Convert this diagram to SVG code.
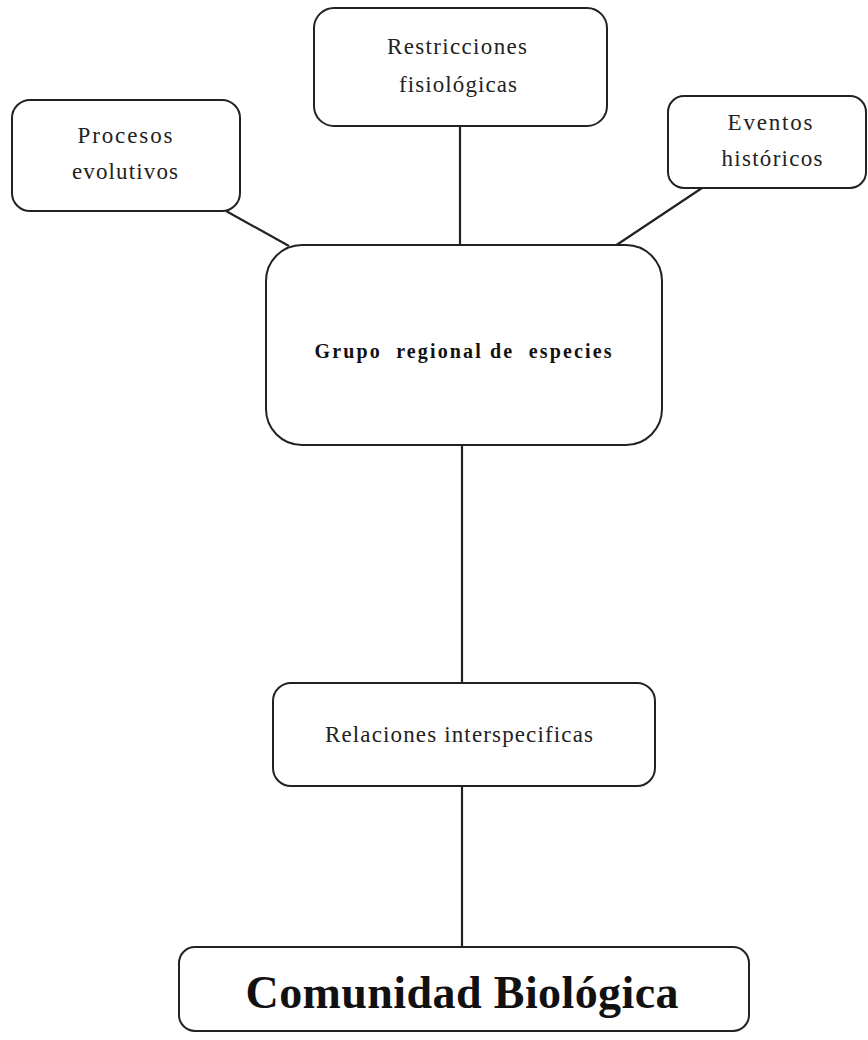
<svg xmlns="http://www.w3.org/2000/svg" width="868" height="1040" viewBox="0 0 868 1040">
<style>
.box{fill:#fff;stroke:#222;stroke-width:2}
.ln{stroke:#222;stroke-width:2.2;fill:none}
.t{font-family:"Liberation Serif","Times New Roman",serif;font-size:23px;fill:#222;text-anchor:middle}
.b{font-family:"Liberation Serif","Times New Roman",serif;font-weight:bold;fill:#111;text-anchor:middle;white-space:pre}
</style>
<rect width="868" height="1040" fill="#fff"/>
<g id="connectors">
<line class="ln" x1="226" y1="211" x2="289" y2="246"/>
<line class="ln" x1="460" y1="126" x2="460" y2="246"/>
<line class="ln" x1="702" y1="188" x2="615" y2="246"/>
<line class="ln" x1="462" y1="445" x2="462" y2="683"/>
<line class="ln" x1="462" y1="786" x2="462" y2="947"/>
</g>
<g id="procesos">
<rect class="box" x="12" y="100" width="228" height="111" rx="18"/>
<text class="t" x="125" y="143" textLength="95" lengthAdjust="spacing">Procesos</text>
<text class="t" x="125" y="179" textLength="106" lengthAdjust="spacing">evolutivos</text>
</g>
<g id="restricciones">
<rect class="box" x="314" y="8" width="293" height="118" rx="20"/>
<text class="t" x="457" y="54" textLength="140" lengthAdjust="spacing">Restricciones</text>
<text class="t" x="458" y="92" textLength="118" lengthAdjust="spacing">fisiológicas</text>
</g>
<g id="eventos">
<rect class="box" x="668" y="96" width="198" height="92" rx="16"/>
<text class="t" x="770" y="130" textLength="85" lengthAdjust="spacing">Eventos</text>
<text class="t" x="772" y="166" textLength="101" lengthAdjust="spacing">históricos</text>
</g>
<g id="grupo">
<rect class="box" x="266" y="245" width="396" height="200" rx="36"/>
<text class="b" x="463" y="358" font-size="20" textLength="297" lengthAdjust="spacing">Grupo  regional de  especies</text>
</g>
<g id="relaciones">
<rect class="box" x="273" y="683" width="382" height="103" rx="18"/>
<text class="t" x="459" y="742" textLength="268" lengthAdjust="spacing">Relaciones interspecificas</text>
</g>
<g id="comunidad">
<rect class="box" x="179" y="947" width="570" height="84" rx="16"/>
<text class="b" x="462" y="1008" font-size="46" textLength="433" lengthAdjust="spacing">Comunidad Biológica</text>
</g>
</svg>
